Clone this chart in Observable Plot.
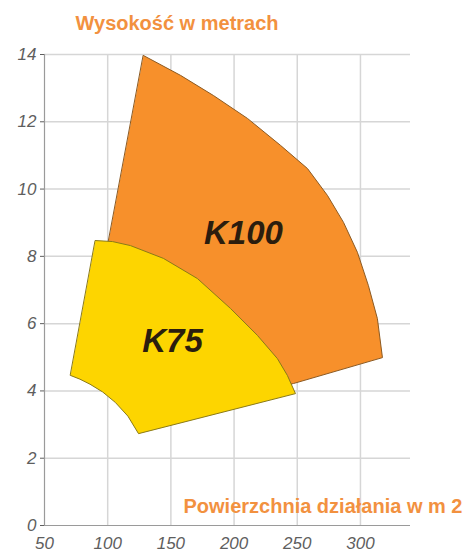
<!DOCTYPE html>
<html><head><meta charset="utf-8">
<script src="https://cdn.jsdelivr.net/npm/d3@7"></script>
<script src="https://cdn.jsdelivr.net/npm/@observablehq/plot@0.6"></script>
<style>body{margin:0;overflow:hidden;background:#fff}</style>
</head><body><div id="chart"></div>
<script>
// ticks
const yTicks = [0, 2, 4, 6, 8, 10, 12, 14];
const xTicks = [50, 100, 150, 200, 250, 300];
// K100 working envelope (x = surface, y = height); last two points are hidden behind K75
const k100X = [128.3, 157.6, 183.7, 210.6, 236.7, 258.1, 273.9, 286.6, 297.6, 306.3, 313.4, 317.4, 247.0, 173.4, 91.9];
const k100Y = [13.97, 13.38, 12.78, 12.10, 11.30, 10.61, 9.81, 9.01, 8.12, 7.13, 6.15, 4.99, 4.22, 3.57, 6.69];
// K75 working envelope
const k75X = [90.3, 103.8, 118.0, 144.1, 171.0, 197.2, 218.5, 234.3, 242.2, 248.6, 124.4, 116.0, 106.0, 96.0, 86.0, 78.0, 70.6];
const k75Y = [8.47, 8.44, 8.32, 7.94, 7.34, 6.45, 5.65, 4.96, 4.46, 3.92, 2.73, 3.25, 3.66, 3.97, 4.20, 4.35, 4.46];
// labels
const labelText = ["K100", "K75"];
const labelX = [207.4, 151.3];
const labelY = [8.68, 5.47];
const yTitle = "Wysokość w metrach";
const xTitle = "Powierzchnia działania w m 2";

const k100 = k100X.map((x, i) => ({x, y: k100Y[i]}));
const k75 = k75X.map((x, i) => ({x, y: k75Y[i]}));
const labels = labelText.map((t, i) => ({t, x: labelX[i], y: labelY[i]}));

const plot = Plot.plot({
  width: 465,
  height: 553,
  marginLeft: 44,
  marginRight: 55,
  marginTop: 54,
  marginBottom: 28,
  style: {fontFamily: "'Liberation Sans', Arial, sans-serif", fontStyle: "italic", background: "#fff", overflow: "hidden"},
  x: {domain: [50, 339.6]},
  y: {domain: [0, 14]},
  marks: [
    Plot.gridY(yTicks.filter(d => d > 0), {stroke: "#d6d6d6", strokeOpacity: 1, strokeWidth: 1.5}),
    Plot.gridX(xTicks.filter(d => d > 50), {stroke: "#d6d6d6", strokeOpacity: 1, strokeWidth: 1.5}),
    Plot.ruleX([50], {stroke: "#9a9a9a", strokeWidth: 1.2}),
    Plot.ruleY([0], {stroke: "#9a9a9a", strokeWidth: 1.2}),
    Plot.axisY(yTicks, {tickSize: 4, tickPadding: 4, fontSize: 17, color: "#5e5e5e", label: null}),
    Plot.axisX(xTicks, {tickSize: 0, tickPadding: 11, fontSize: 17, color: "#5e5e5e", label: null}),
    Plot.line(k100, {x: "x", y: "y", curve: "linear-closed", fill: "#F7902B", stroke: "#8c5a22", strokeWidth: 1}),
    Plot.line(k75, {x: "x", y: "y", curve: "linear-closed", fill: "#FDD500", stroke: "#8a7a18", strokeWidth: 1}),
    Plot.text(labels, {x: "x", y: "y", text: "t", fontSize: 33, fontWeight: "bold", fontStyle: "italic", fill: "#2b1d0e"}),
    Plot.text([yTitle], {frameAnchor: "top-left", dx: 31, dy: -31, textAnchor: "start", lineAnchor: "middle", fontSize: 20, fontWeight: "bold", fontStyle: "normal", fill: "#F2913F"}),
    Plot.text([xTitle], {frameAnchor: "bottom-left", dx: 139, dy: -19, textAnchor: "start", lineAnchor: "middle", fontSize: 20, fontWeight: "bold", fontStyle: "normal", fill: "#F2913F"})
  ]
});
document.getElementById("chart").appendChild(plot);
</script>
</body></html>
